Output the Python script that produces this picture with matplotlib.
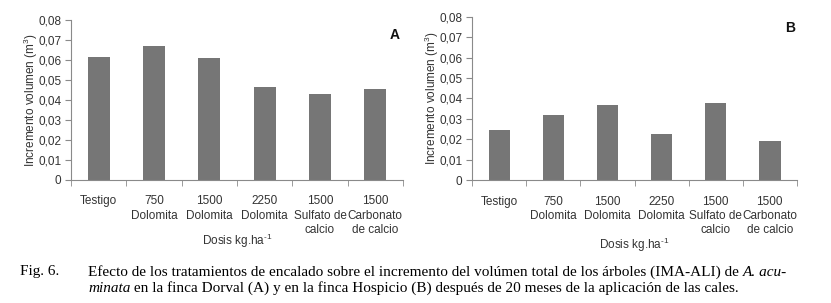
import matplotlib
matplotlib.use("Agg")
import matplotlib.pyplot as plt
import numpy as np

categorias = ["Testigo", "750\nDolomita", "1500\nDolomita", "2250\nDolomita",
              "1500\nSulfato de\ncalcio", "1500\nCarbonato\nde calcio"]
dorval_A = [0.0614, 0.0670, 0.0610, 0.0467, 0.0432, 0.0457]
hospicio_B = [0.0244, 0.0319, 0.0367, 0.0228, 0.0378, 0.0194]
yticks = [0, 0.01, 0.02, 0.03, 0.04, 0.05, 0.06, 0.07, 0.08]
ytick_labels = ["0", "0,01", "0,02", "0,03", "0,04", "0,05", "0,06", "0,07", "0,08"]

plt.rcParams["font.family"] = ["Liberation Sans", "DejaVu Sans"]
plt.rcParams["mathtext.fontset"] = "custom"
plt.rcParams["mathtext.rm"] = "Liberation Sans"

fig = plt.figure(figsize=(8.31, 3.03), dpi=100)
axA = fig.add_axes([0.0854, 0.406, 0.3995, 0.528])
axB = fig.add_axes([0.5684, 0.405, 0.3904, 0.540])

txtc = "#333333"
axc = "#8a8a8a"

def panel(ax, vals, letter, lx, ly, xpad):
    x = np.arange(len(categorias))
    ax.bar(x, vals, width=0.4, color="#767676")
    ax.set_xlim(-0.5, len(categorias) - 0.5)
    ax.set_ylim(0, 0.08)
    ax.set_yticks(yticks)
    ax.set_yticklabels(ytick_labels, fontsize=8.5, color=txtc)
    ax.set_xticks(x)
    ax.set_xticklabels(categorias, fontsize=8.5, color=txtc, linespacing=1.25)
    ax.set_xticks(np.arange(len(categorias) + 1) - 0.5, minor=True)
    ax.tick_params(axis="x", which="major", length=0, pad=11)
    ax.tick_params(axis="x", which="minor", length=4, color=axc, direction="out")
    ax.tick_params(axis="y", length=4, color=axc, direction="out", pad=3)
    for s in ["top", "right"]:
        ax.spines[s].set_visible(False)
    for s in ["left", "bottom"]:
        ax.spines[s].set_color(axc)
        ax.spines[s].set_linewidth(0.8)
    ax.set_ylabel("Incremento volumen (m$^3$)", fontsize=8.5, color=txtc, labelpad=-1)
    ax.set_xlabel("Dosis kg.ha$^{\\text{-1}}$", fontsize=8.5, color=txtc, labelpad=xpad)
    ax.text(lx, ly, letter, transform=ax.transAxes, fontsize=10, fontweight="bold",
            ha="center", va="center", color="#111111")

panel(axA, dorval_A, "A", 0.976, 0.906, -3)
panel(axB, hospicio_B, "B", 0.979, 0.93, 0)

serif = ["Liberation Serif", "DejaVu Serif"]
cfs = 10.95
fig.text(20 / 831, 1 - 275.5 / 303, "Fig. 6.", fontsize=cfs, family=serif, va="baseline")
t1 = fig.text(88 / 831, 1 - 275.5 / 303,
              "Efecto de los tratamientos de encalado sobre el incremento del volúmen total "
              "de los árboles (IMA-ALI) de ", fontsize=cfs, family=serif, va="baseline")
plt.annotate("A. acu-", xy=(1, 0), xycoords=t1, va="bottom", ha="left",
             fontsize=cfs, family=serif, style="italic")
t2 = fig.text(88 / 831, 1 - 292 / 303, "minata", fontsize=cfs, family=serif,
              style="italic", va="baseline")
plt.annotate(" en la finca Dorval (A) y en la finca Hospicio (B) después de 20 meses de la "
             "aplicación de las cales.", xy=(1, 0), xycoords=t2, va="bottom", ha="left",
             fontsize=cfs, family=serif)

fig.savefig("out.png", dpi=100)
